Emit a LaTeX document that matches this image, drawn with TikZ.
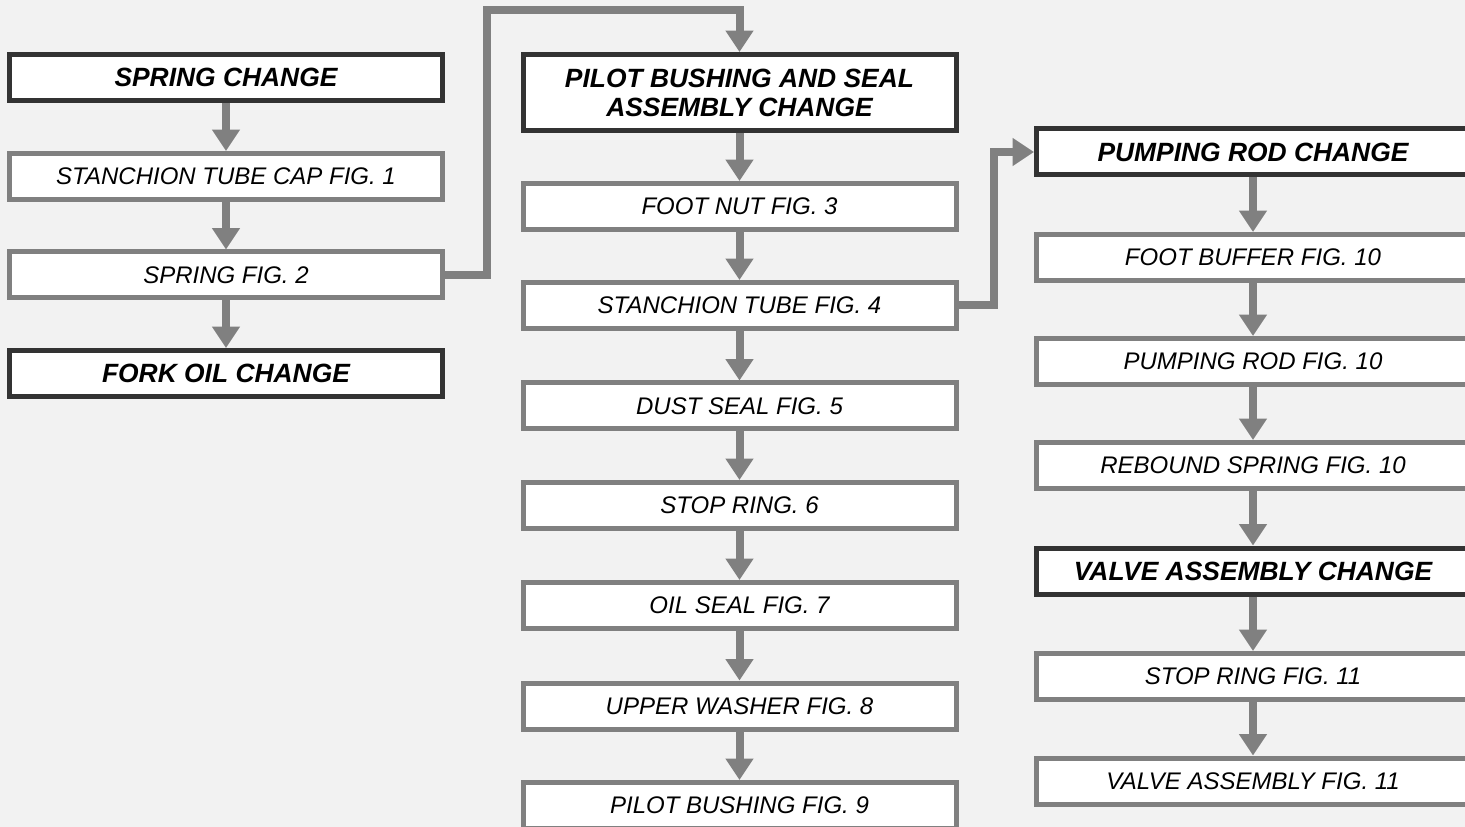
\documentclass[tikz,border=0pt]{standalone}
\usepackage{fontspec}
\setmainfont{Liberation Sans}
\usetikzlibrary{arrows.meta}
\definecolor{bg}{HTML}{F2F2F2}
\definecolor{lgray}{HTML}{808080}
\definecolor{dgray}{HTML}{333333}
\tikzset{
  box/.style={draw=lgray, fill=white, line width=3.75pt, inner sep=0pt,
    minimum width=324.75pt, minimum height=34.5pt,
    font=\itshape\fontsize{18}{21.75}\selectfont, text=black, align=center},
  headbox/.style={box, draw=dgray, font=\bfseries\itshape\fontsize{19.8}{21.75}\selectfont},
  arr/.style={draw=lgray, line width=6pt,
    -{Triangle[width=20pt,length=16pt]}},
  conn/.style={arr, line join=miter}
}
\begin{document}
\begin{tikzpicture}[x=0.75pt,y=-0.75pt]
\fill[bg] (0,0) rectangle (1465,827);
\useasboundingbox (0,0) rectangle (1465,827);
% left column
\node[headbox] (sc)  at (226,77.5)  {SPRING CHANGE};
\node[box]     (stc) at (226,176.5) {STANCHION TUBE CAP FIG. 1};
\node[box]     (sf2) at (226,275)   {SPRING FIG. 2};
\node[headbox] (foc) at (226,373.5) {FORK OIL CHANGE};
% middle column
\node[headbox, minimum height=57pt] (pb) at (739.5,92.5) {PILOT BUSHING AND SEAL\\ASSEMBLY CHANGE};
\node[box] (fn)  at (739.5,206.5) {FOOT NUT FIG. 3};
\node[box] (st4) at (739.5,305.5) {STANCHION TUBE FIG. 4};
\node[box] (ds)  at (739.5,406)   {DUST SEAL FIG. 5};
\node[box] (sr6) at (739.5,505.5) {STOP RING. 6};
\node[box] (os)  at (739.5,605.5) {OIL SEAL FIG. 7};
\node[box] (uw)  at (739.5,706)   {UPPER WASHER FIG. 8};
\node[box] (pbf) at (739.5,805.5) {PILOT BUSHING FIG. 9};
% right column
\node[headbox] (prc) at (1253,152)   {PUMPING ROD CHANGE};
\node[box]     (fb)  at (1253,257.5) {FOOT BUFFER FIG. 10};
\node[box]     (prf) at (1253,361.5) {PUMPING ROD FIG. 10};
\node[box]     (rs)  at (1253,465.5) {REBOUND SPRING FIG. 10};
\node[headbox] (vac) at (1253,571)   {VALVE ASSEMBLY CHANGE};
\node[box]     (srf) at (1253,676.5) {STOP RING FIG. 11};
\node[box]     (vaf) at (1253,781)   {VALVE ASSEMBLY FIG. 11};
% vertical arrows
\draw[arr] (sc) -- (stc);
\draw[arr] (stc) -- (sf2);
\draw[arr] (sf2) -- (foc);
\draw[arr] (pb) -- (fn);
\draw[arr] (fn) -- (st4);
\draw[arr] (st4) -- (ds);
\draw[arr] (ds) -- (sr6);
\draw[arr] (sr6) -- (os);
\draw[arr] (os) -- (uw);
\draw[arr] (uw) -- (pbf);
\draw[arr] (prc) -- (fb);
\draw[arr] (fb) -- (prf);
\draw[arr] (prf) -- (rs);
\draw[arr] (rs) -- (vac);
\draw[arr] (vac) -- (srf);
\draw[arr] (srf) -- (vaf);
% elbow connectors
\coordinate (c1) at (487,10);
\coordinate (c2) at (994,152);
\draw[conn] (sf2.east) -| (c1) -| (pb.north);
\draw[conn] (st4.east) -| (c2) -- (prc.west);
\end{tikzpicture}
\end{document}
